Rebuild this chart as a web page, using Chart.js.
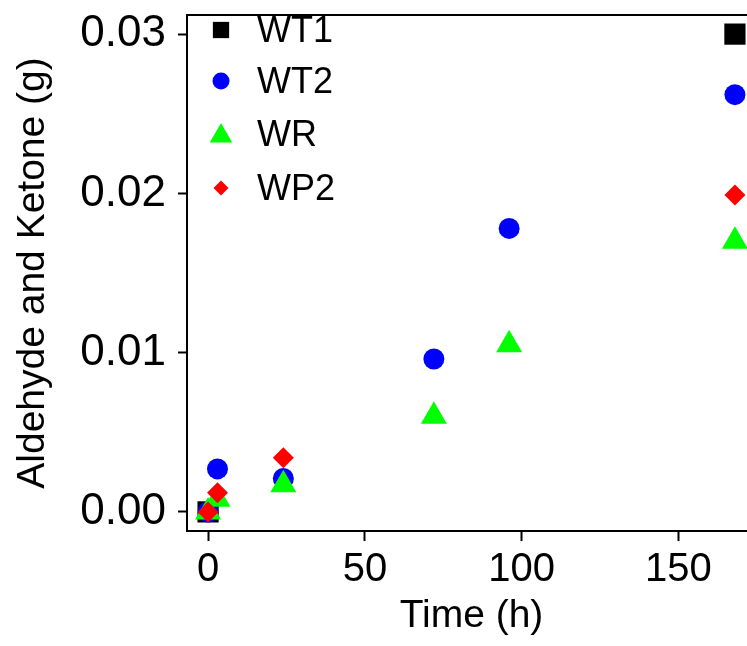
<!DOCTYPE html>
<html>
<head>
<meta charset="utf-8">
<script src="https://cdn.jsdelivr.net/npm/chart.js@4.4.1/dist/chart.umd.min.js"></script>
<style>
  html, body { margin: 0; padding: 0; background: #fff; overflow: hidden; }
  #wrap { width: 747px; height: 646px; overflow: hidden; }
  #inner { width: 771px; height: 646px; }
  canvas { display: block; width: 771px; height: 646px; }
</style>
</head>
<body>
<div id="wrap"><div id="inner"><canvas id="chart" width="771" height="646"></canvas></div></div>
<script>
// sampling times (h) and measured aldehyde + ketone (g); null = not measured
const hours = [0, 3, 24, 72, 96, 168];
const wt1 = [0, null, null, null, null, 0.0300];
const wt2 = [0, 0.0027, 0.0021, 0.0096, 0.0178, 0.0262];
const wr  = [0, 0.0008, 0.0017, 0.0060, 0.0105, 0.0170];
const wp2 = [0, 0.0012, 0.0034, null, null, 0.0199];

const xTicks = [0, 50, 100, 150];
const yTicks = [0, 0.01, 0.02, 0.03];

const FONT = "'Liberation Sans', Arial, sans-serif";

function pairs(ys) {
  return hours.map((h, i) => ({ x: h, y: ys[i] })).filter(p => p.y !== null);
}

const series = [
  { label: 'WT1', data: wt1, color: '#000000', style: 'rect',     radius: 15,   legendRadius: 11.5, order: 4 },
  { label: 'WT2', data: wt2, color: '#0000ff', style: 'circle',   radius: 10.5, legendRadius: 8.5,  order: 3 },
  { label: 'WR',  data: wr,  color: '#00ff00', style: 'triangle', radius: 15,   legendRadius: 13,   order: 2 },
  { label: 'WP2', data: wp2, color: '#ff0000', style: 'rectRot',  radius: 10.5, legendRadius: 7.5,  order: 1 }
];

// R-style box around the plotting region
const boxPlugin = {
  id: 'box',
  beforeDatasetsDraw(chart) {
    const a = chart.chartArea, ctx = chart.ctx;
    ctx.save();
    ctx.strokeStyle = '#000';
    ctx.lineWidth = 2;
    ctx.strokeRect(a.left, a.top, a.right - a.left, a.bottom - a.top);
    ctx.restore();
  }
};

// legend in the top-left corner of the plot
const legendPlugin = {
  id: 'cornerLegend',
  afterDraw(chart) {
    const ctx = chart.ctx, a = chart.chartArea;
    const rows = [30, 81, 134, 188];
    ctx.save();
    ctx.font = '36px ' + FONT;
    ctx.textBaseline = 'middle';
    ctx.textAlign = 'left';
    series.forEach((s, i) => {
      const y = rows[i];
      const x = a.left + 34;
      ctx.fillStyle = s.color;
      Chart.helpers.drawPoint(ctx, { pointStyle: s.style, radius: s.legendRadius, rotation: 0, borderWidth: 0 }, x, y + (s.style === 'triangle' ? 2 : 0));
      ctx.fillStyle = '#000';
      ctx.fillText(s.label, a.left + 70, y + 2);
    });
    ctx.restore();
  }
};

new Chart(document.getElementById('chart'), {
  type: 'scatter',
  data: {
    datasets: series.map(s => ({
      label: s.label,
      data: pairs(s.data),
      pointStyle: s.style,
      pointRadius: s.radius,
      pointHoverRadius: s.radius,
      pointBackgroundColor: s.color,
      pointBorderColor: s.color,
      pointBorderWidth: 0,
      order: s.order
    }))
  },
  options: {
    responsive: false,
    animation: false,
    events: [],
    // the canvas is wider than the page, so the plot box runs past its right edge
    layout: { padding: { top: 10, right: 4, left: 0, bottom: 0 } },
    plugins: { legend: { display: false }, tooltip: { enabled: false } },
    scales: {
      x: {
        type: 'linear',
        min: -6.72,
        max: 174.72,
        afterFit(scale) {
          scale.height = 115;
          scale.paddingLeft = 0;
          scale.paddingRight = 0;
        },
        afterBuildTicks(scale) { scale.ticks = xTicks.map(v => ({ value: v })); },
        ticks: { color: '#000', font: { family: FONT, size: 40 }, padding: 5, maxRotation: 0 },
        grid: { drawOnChartArea: false, drawTicks: true, tickLength: 10, tickColor: '#000', tickWidth: 2 },
        border: { display: true, color: '#000', width: 2 },
        title: { display: true, text: 'Time (h)', color: '#000', font: { family: FONT, size: 39 }, padding: { top: 0, bottom: 6 } }
      },
      y: {
        type: 'linear',
        min: -0.0012,
        max: 0.0312,
        afterFit(scale) {
          scale.width = 187;
          scale.paddingTop = 0;
          scale.paddingBottom = 0;
        },
        afterBuildTicks(scale) { scale.ticks = yTicks.map(v => ({ value: v })); },
        ticks: { color: '#000', font: { family: FONT, size: 44 }, padding: 12, callback: v => v.toFixed(2) },
        grid: { drawOnChartArea: false, drawTicks: true, tickLength: 9, tickColor: '#000', tickWidth: 2 },
        border: { display: true, color: '#000', width: 2 },
        title: { display: true, text: 'Aldehyde and Ketone (g)', color: '#000', font: { family: FONT, size: 39 }, padding: { top: 10, bottom: 0 } }
      }
    }
  },
  plugins: [boxPlugin, legendPlugin]
});
</script>
</body>
</html>
